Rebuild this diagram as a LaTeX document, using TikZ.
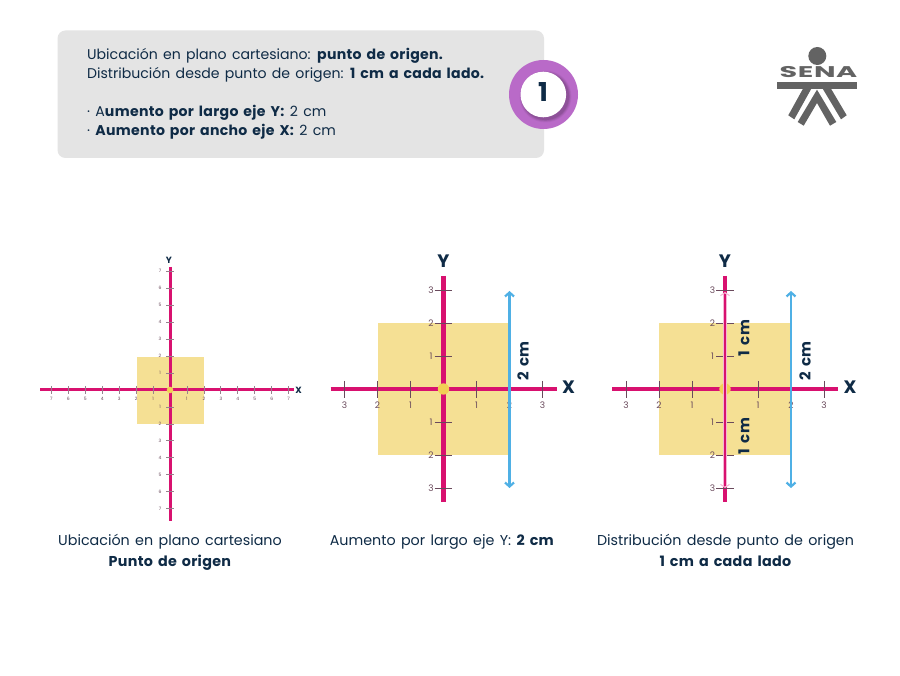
\documentclass[tikz,border=0pt]{standalone}
\usepackage{fontspec}
\usepackage{graphicx}
\setmainfont{Poppins}[WordSpace=1.4,BoldFeatures={LetterSpace=2.2,WordSpace=1.5}]
\usetikzlibrary{arrows.meta}
\definecolor{navy}{HTML}{0F2B46}
\definecolor{panelgray}{HTML}{E4E4E4}
\definecolor{axispink}{HTML}{D8116F}
\definecolor{sandfill}{HTML}{F5E094}
\definecolor{dotgold}{HTML}{F2CF55}
\definecolor{skyblue}{HTML}{4FB0E5}
\definecolor{ringpurple}{HTML}{B96AC8}
\definecolor{tickplum}{HTML}{6A4A5C}
\definecolor{logogray}{HTML}{636363}
\definecolor{softpink}{HTML}{F4B6D3}
\newcommand{\fs}[1]{\fontsize{#1}{#1}\selectfont}
\tikzset{
  panel/.style={fill=panelgray,rounded corners=8pt,draw=none},
  txt/.style={text=navy,inner sep=0pt,anchor=base west,font=\fs{14.1}},
  capt/.style={text=navy,inner sep=0pt,anchor=base,font=\fs{14.3}},
  axisline/.style={draw=axispink,line width=4.7pt},
  axislinesmall/.style={draw=axispink,line width=3pt},
  tickline/.style={draw=tickplum,line width=0.9pt},
  ticklinesmall/.style={draw=tickplum!70,line width=0.8pt},
  ticklabel/.style={text=tickplum,inner sep=0pt,font=\fs{9}},
  ticklabelsmall/.style={text=tickplum,inner sep=0pt,font=\fs{4.5}},
  axisname/.style={text=navy,inner sep=0pt,font=\bfseries\fs{18}},
  axisnamesmall/.style={text=navy,inner sep=0pt,font=\bfseries\fs{9}},
  dimarrow/.style={draw=skyblue,line width=2.2pt,{Straight Barb[length=4pt,width=9pt]}-{Straight Barb[length=4pt,width=9pt]}},
  pinkarrow/.style={draw=softpink,line width=1pt,{Straight Barb[length=3pt,width=9pt]}-{Straight Barb[length=3pt,width=9pt]}},
  pinkshaft/.style={draw=softpink,line width=1pt,double=axispink,double distance=2.7pt},
  dimtext/.style={text=navy,inner sep=0pt,rotate=90,font=\bfseries\fs{15}},
  logopart/.style={fill=logogray,draw=none}
}
% big plane: #1 centre x
\newcommand{\bigplane}[1]{%
  \fill[sandfill] ({#1-66},323) rectangle ({#1+66},454.5);
  \foreach \v/\t in {-3/3,-2/2,-1/1,1/1,2/2,3/3}{
    \node[ticklabel] at ({#1+\v*33},405) {\t};
    \node[ticklabel] at ({#1-12.5},{389+\v*33}) {\t};
  }
  \draw[axisline] ({#1-113},389) -- ({#1+113},389);
  \draw[axisline] (#1,276) -- (#1,502);
  \foreach \v in {-3,-2,-1,1,2,3}{
    \draw[tickline] ({#1+\v*33},381) -- ({#1+\v*33},397.5);
    \draw[tickline] ({#1-9},{389+\v*33}) -- ({#1+8.5},{389+\v*33});
  }
  \fill[dotgold] (#1,389) circle (5.7);
  \node[axisname] at ({#1+125},387) {X};
  \node[axisname] at (#1,261) {Y};
}
\begin{document}
\begin{tikzpicture}[x=1pt,y=-1pt]
\useasboundingbox (0,0) rectangle (900,676);
\fill[white] (0,0) rectangle (900,676);
% panel
\path[panel] (57.5,30.5) rectangle (544,158);
\node[txt] (l1) at (87,60) {Ubicación en plano cartesiano: \textbf{punto de origen.}};
\node[txt] (l2) at (87,79) {Distribución desde punto de origen: \textbf{1 cm a cada lado.}};
\node[txt] (l3) at (87,117) {· A\textbf{umento por largo eje Y:} 2 cm};
\node[txt] (l4) at (87,136) {· \textbf{Aumento por ancho eje X:} 2 cm};
% badge
\fill[ringpurple] (543.5,94.5) circle (34.5);
\foreach \r/\o in {26/0.06,25.2/0.08,24.4/0.10,23.6/0.12}
  \fill[black!70!ringpurple,opacity=\o] (545.5,96.5) circle (\r);
\node[circle,fill=white,minimum size=45.6pt,inner sep=0pt] (badge) at (543.3,94.5) {};
\node[text=navy,inner sep=0pt,font=\bfseries\fs{26},anchor=center] (badgenum) at (543,92.5) {1};
% logo
\fill[logopart] (817.3,56) circle (9);
\node[inner sep=0pt,text=logogray] (sena) at (818.5,72.5) {\scalebox{1.85}[1]{\bfseries\fs{15.5}SENA}};
\fill[logopart] (777,82) rectangle (857,88.7);
\fill[logopart] (803,88.7) -- (811.3,88.7) -- (794.3,119.3) -- (788.3,115.3) -- cycle;
\fill[logopart] (817,89.7) -- (836.3,122) -- (830,125.7) -- (817,103) -- (803.7,125.7) -- (797.7,122) -- cycle;
\fill[logopart] (822.7,88.7) -- (831,88.7) -- (846.7,115.3) -- (841,119.3) -- cycle;
% small plane
\fill[sandfill] (137,357) rectangle (204,423.5);
\foreach \v/\t in {-7/7,-6/6,-5/5,-4/4,-3/3,-2/2,-1/1,1/1,2/2,3/3,4/4,5/5,6/6,7/7}{
  \node[ticklabelsmall] at ({170+\v*16.95},399) {\t};
  \node[ticklabelsmall] at (160,{390+\v*16.95}) {\t};
}
\draw[axislinesmall] (40,390) -- (294,390);
\draw[axislinesmall] (170,267) -- (170,521);
\foreach \v in {-7,-6,-5,-4,-3,-2,-1,1,2,3,4,5,6,7}{
  \draw[ticklinesmall] ({170+\v*16.95},386) -- ({170+\v*16.95},394);
  \draw[ticklinesmall] (166,{390+\v*16.95}) -- (174,{390+\v*16.95});
}
\fill[dotgold] (170,390) circle (3.3);
\node[axisnamesmall] (x1) at (298.5,390) {X};
\node[axisnamesmall] (y1) at (169,260) {Y};
% middle plane
\bigplane{443.5}
\coordinate (a2t) at (509.5,291);
\coordinate (a2b) at (509.5,488);
\draw[dimarrow] (a2t) -- (a2b);
\node[dimtext] (d2) at (523,361) {2 cm};
% right plane
\bigplane{725}
\coordinate (a3t) at (791,291);
\coordinate (a3b) at (791,488);
\draw[dimarrow] (a3t) -- (a3b);
\node[dimtext] (d3) at (805,361) {2 cm};
\coordinate (pt) at (725,292);
\coordinate (pb) at (725,488);
\coordinate (st) at (725,294);
\coordinate (sb) at (725,486);
\draw[pinkarrow] (pt) -- (pb);
\draw[pinkshaft] (st) -- (sb);
\node[dimtext] (d4) at (744,338) {1 cm};
\node[dimtext] (d5) at (744,436) {1 cm};
% captions
\node[capt] (c1a) at (170,545) {Ubicación en plano cartesiano};
\node[capt] (c1b) at (170,566) {\textbf{Punto de origen}};
\node[capt] (c2) at (442,545) {Aumento por largo eje Y: \textbf{2 cm}};
\node[capt] (c3a) at (725.5,545) {Distribución desde punto de origen};
\node[capt] (c3b) at (725.5,566) {\textbf{1 cm a cada lado}};
\end{tikzpicture}
\end{document}
